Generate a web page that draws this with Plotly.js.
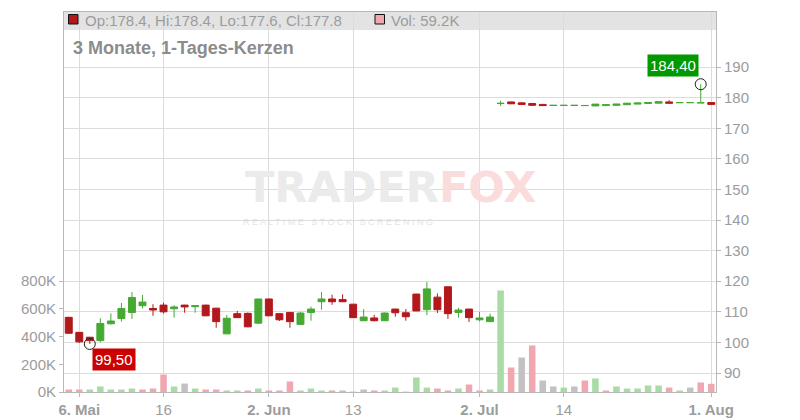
<!DOCTYPE html>
<html>
<head>
<meta charset="utf-8">
<script src="https://cdn.plot.ly/plotly-3.0.1.min.js"></script>
<style>html,body{margin:0;padding:0;background:#fff}#chart{width:800px;height:420px}</style>
</head>
<body>
<div id="chart"></div>
<script>
// Trading-day index (0 = 5 May 2025)
const dayIndex = Array.from({length: 62}, (_, i) => i);
const tickIdx = [1, 9, 19, 27, 39, 47, 61];
const tickLabels = ['<b>6. Mai</b>', '16', '<b>2. Jun</b>', '13', '<b>2. Jul</b>', '14', '<b>1. Aug</b>'];

const opens = [108.2,103.3,101.7,100.6,106.1,107.8,109.8,112.0,111.1,112.2,
  111.0,112.2,111.7,112.2,111.2,102.8,109.4,109.5,106.3,114.2,
  109.4,109.8,105.9,109.8,113.3,114.2,114.0,112.5,107.1,108.0,
  107.1,110.9,109.7,115.8,110.7,114.8,118.2,109.8,110.9,107.4,
  106.8,178.1,178.6,178.3,178.1,177.8,177.45,177.45,177.45,177.4,
  177.3,177.4,177.5,177.7,177.9,178.1,178.2,178.6,178.35,178.35,
  178.3,178.4];
const highs = [108.4,103.4,101.8,107.9,109.5,112.9,116.5,115.5,112.5,113.0,
  112.2,112.3,112.2,112.3,111.3,109.0,110.3,109.8,114.3,114.3,
  109.5,109.9,110.0,111.7,116.5,115.6,115.7,112.6,110.9,109.0,
  109.8,111.0,110.9,115.9,119.7,116.0,118.3,111.3,111.0,110.0,
  109.4,179.0,178.7,178.4,178.2,177.9,177.55,177.55,177.55,177.55,
  177.9,177.75,177.95,178.25,178.3,178.45,178.75,179.2,178.45,178.45,
  184.4,178.4];
const lows = [102.8,99.8,99.5,100.1,105.9,106.8,107.7,111.1,108.7,109.4,
  108.1,109.7,109.7,108.6,104.8,102.7,108.0,105.0,106.1,108.6,
  107.0,104.8,105.7,107.1,110.7,112.3,113.2,108.0,107.0,106.9,
  107.0,108.4,107.1,110.2,108.9,109.6,107.7,108.1,106.7,106.9,
  106.7,177.3,177.9,177.7,177.4,177.3,177.4,177.4,177.4,177.35,
  177.25,177.35,177.45,177.65,177.85,178.05,178.15,178.2,178.3,178.3,
  178.25,177.6];
const closes = [103.0,100.2,100.6,106.2,107.0,111.1,114.7,113.2,110.6,110.0,
  111.6,111.6,112.0,108.7,106.8,107.9,108.1,105.1,114.2,108.7,
  107.4,106.8,109.6,110.9,114.2,113.3,113.3,108.1,108.3,107.1,
  109.6,109.7,108.4,110.3,117.5,110.7,109.4,110.6,108.1,108.0,
  108.3,178.15,178.0,177.8,177.5,177.4,177.5,177.5,177.5,177.45,
  177.9,177.7,177.9,178.2,178.25,178.4,178.7,178.2,178.4,178.4,
  178.35,177.8];
// Volume in thousands
const volumesK = [18,18,18,40,18,18,25,18,25,126,
  40,61,25,18,18,11,11,11,25,11,
  11,76,11,25,11,11,11,3,18,11,
  11,32,3,105,32,25,11,25,54,11,
  18,733,177,249,336,83,40,32,40,83,
  98,11,40,25,25,47,47,32,11,32,
  69,59.2];
// u = up, d = down, n = unchanged (volume bar colour class)
const volDir = ['d','d','u','u','u','u','u','d','d','d',
  'u','n','u','d','d','u','u','d','u','d',
  'd','d','u','u','u','d','n','n','n','d',
  'u','u','d','u','u','d','d','u','d','d',
  'u','u','d','n','d','n','n','u','n','d',
  'u','d','u','u','u','u','u','d','u','n',
  'd','d'];
const volTickVals = [0, 200000, 400000, 600000, 800000];
const volTickText = ['0K', '200K', '400K', '600K', '800K'];
const priceTicks = [90,100,110,120,130,140,150,160,170,180,190];

const GREEN = '#46a934', RED = '#b3181c';
const volColorMap = {u: '#a9dca5', d: '#f0a7b0', n: '#c2c2c2'};
const last = dayIndex.length - 1;

const lowMin = Math.min(...lows), lowIdx = lows.indexOf(lowMin);
const highMax = Math.max(...highs), highIdx = highs.indexOf(highMax);
const fmt = v => v.toFixed(2).replace('.', ',');

const traces = [
  {
    type: 'bar', x: dayIndex, y: volumesK.map(v => v * 1000), yaxis: 'y',
    marker: {color: volDir.map(d => volColorMap[d]), line: {width: 0}},
    width: 0.62, hoverinfo: 'skip', showlegend: false
  },
  {
    type: 'candlestick', x: dayIndex, open: opens, high: highs, low: lows, close: closes,
    xaxis: 'x', yaxis: 'y2',
    increasing: {line: {color: GREEN, width: 1}, fillcolor: GREEN},
    decreasing: {line: {color: RED, width: 1}, fillcolor: RED},
    whiskerwidth: 0, hoverinfo: 'skip', showlegend: false
  },
  {
    type: 'scatter', mode: 'markers', x: [dayIndex[lowIdx], dayIndex[highIdx]], y: [lowMin, highMax],
    yaxis: 'y2', marker: {symbol: 'circle-open', size: 11, color: '#222', line: {width: 1}},
    hoverinfo: 'skip', showlegend: false
  }
];

const W = 652, H = 380, L = 64, T = 12;
const px = v => (v - L) / W;
const py = v => (T + H - v) / H;
const grayTxt = '#9c9c9c';

const layout = {
  width: 800, height: 420,
  margin: {l: L, r: 800 - L - W, t: T, b: 420 - T - H, pad: 0},
  paper_bgcolor: '#fff', plot_bgcolor: '#fff',
  font: {family: 'Liberation Sans, Arial, sans-serif', size: 15, color: grayTxt},
  showlegend: false,
  boxgap: 0.34, boxgroupgap: 0,
  xaxis: {
    range: [-0.45, 61.45], rangeslider: {visible: false},
    tickmode: 'array', tickvals: tickIdx, ticktext: tickLabels,
    showgrid: true, gridcolor: '#dcdcdc', gridwidth: 1,
    showline: true, linecolor: '#b8b8b8', linewidth: 1, mirror: true,
    ticks: 'outside', ticklen: 4, tickcolor: '#b8b8b8',
    tickfont: {size: 15, color: grayTxt}, zeroline: false, fixedrange: true
  },
  yaxis: {
    range: [0, 2744000], side: 'left',
    tickmode: 'array', tickvals: volTickVals, ticktext: volTickText,
    showgrid: false, zeroline: false,
    showline: true, linecolor: '#b8b8b8', linewidth: 1,
    ticks: 'outside', ticklen: 4, tickcolor: '#b8b8b8',
    tickfont: {size: 15, color: grayTxt}, fixedrange: true
  },
  yaxis2: {
    range: [83.8, 208.0], side: 'right', overlaying: 'y',
    tickmode: 'array', tickvals: priceTicks,
    showgrid: true, gridcolor: '#dcdcdc', gridwidth: 1, zeroline: false,
    showline: true, linecolor: '#b8b8b8', linewidth: 1,
    ticks: 'outside', ticklen: 4, tickcolor: '#b8b8b8',
    tickfont: {size: 15, color: grayTxt}, fixedrange: true
  },
  shapes: [
    {type: 'rect', xref: 'paper', yref: 'paper', x0: 0, x1: 1, y0: py(30), y1: 1,
     fillcolor: '#e3e3e3', line: {width: 0}, layer: 'below'},
    {type: 'rect', xref: 'paper', yref: 'paper', x0: px(68.5), x1: px(78), y0: py(24), y1: py(14.5),
     fillcolor: RED, line: {color: '#111', width: 1}, layer: 'above'},
    {type: 'rect', xref: 'paper', yref: 'paper', x0: px(375), x1: px(384.5), y0: py(24), y1: py(14.5),
     fillcolor: '#f0a7b0', line: {color: '#111', width: 1}, layer: 'above'}
  ],
  annotations: [
    {xref: 'paper', yref: 'paper', x: px(83), y: py(20.5), xanchor: 'left', yanchor: 'middle',
     text: 'Op:' + opens[last] + ', Hi:' + highs[last] + ', Lo:' + lows[last] + ', Cl:' + closes[last],
     showarrow: false, font: {size: 15, color: grayTxt}},
    {xref: 'paper', yref: 'paper', x: px(389), y: py(20.5), xanchor: 'left', yanchor: 'middle',
     text: 'Vol: ' + volumesK[last] + 'K', showarrow: false, font: {size: 15, color: grayTxt}},
    {xref: 'paper', yref: 'paper', x: px(71), y: py(47.5), xanchor: 'left', yanchor: 'middle',
     text: '<b>3 Monate, 1-Tages-Kerzen</b>', showarrow: false, font: {size: 18, color: '#8c8c8c'}},
    {xref: 'paper', yref: 'paper', x: px(390), y: py(187), xanchor: 'center', yanchor: 'middle',
     text: '<b>TRADER<span style="color:#fbdcdc">FOX</span></b>', showarrow: false,
     font: {family: 'DejaVu Sans, sans-serif', size: 43, color: '#ebebeb'}},
    {xref: 'paper', yref: 'paper', x: px(338), y: py(222), xanchor: 'center', yanchor: 'middle',
     text: 'R E A L T I M E&nbsp;&nbsp; S T O C K&nbsp;&nbsp; S C R E E N I N G', showarrow: false,
     font: {size: 9, color: '#e3e3e3'}},
    {xref: 'x', yref: 'y2', x: dayIndex[lowIdx], y: lowMin, xanchor: 'left', yanchor: 'top',
     xshift: 2, yshift: -4, text: fmt(lowMin), showarrow: false,
     bgcolor: '#cc0000', borderpad: 2, font: {size: 15, color: '#fff'}},
    {xref: 'x', yref: 'y2', x: dayIndex[highIdx], y: highMax, xanchor: 'right', yanchor: 'bottom',
     xshift: -2, yshift: 7, text: fmt(highMax), showarrow: false,
     bgcolor: '#009900', borderpad: 2, font: {size: 15, color: '#fff'}}
  ]
};

Plotly.newPlot('chart', traces, layout, {staticPlot: true, displayModeBar: false});
</script>
</body>
</html>
